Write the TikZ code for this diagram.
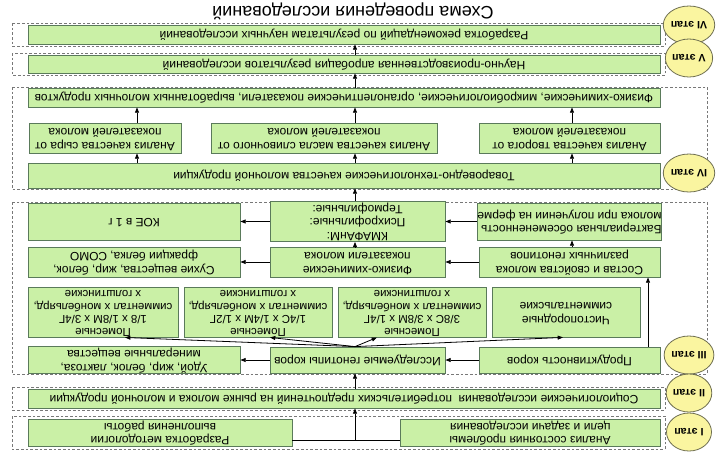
\documentclass[tikz,border=0pt]{standalone}
\usepackage{fontspec}
\setmainfont{Liberation Sans}
\usetikzlibrary{arrows.meta,shapes.geometric}
\definecolor{gfill}{RGB}{202,240,166}
\definecolor{gdraw}{RGB}{90,122,90}
\definecolor{yfill}{RGB}{250,245,160}
\definecolor{ydraw}{RGB}{110,110,80}
\definecolor{dgray}{RGB}{120,120,120}
\newcommand\R[2]{\rotatebox{180}{\begin{tabular}{@{}#1@{}}#2\end{tabular}}}
\newcommand\Rs[1]{{\fontsize{8.6}{9.4}\selectfont\R{c}{#1}}}
\newcommand\gb[6]{\node[gbox, minimum width={(#4-#2)*0.75pt}, minimum height={(#5-#3)*0.75pt}] (#1) at ({(#2+#4)/2},{(#3+#5)/2}) {#6};}
\begin{document}
\begin{tikzpicture}[x=0.75pt,y=-0.75pt,
 gbox/.style={draw=gdraw, fill=gfill, line width=0.6pt, inner sep=0pt, font=\fontsize{9}{10}\selectfont},
 dbox/.style={draw=dgray, dash pattern=on 2pt off 1.5pt, line width=0.6pt},
 stage/.style={ellipse, draw=ydraw, fill=yfill, line width=0.6pt, minimum width={45*0.75pt}, minimum height={38*0.75pt}, inner sep=0pt, font=\bfseries\fontsize{8}{9}\selectfont},
 arr/.style={-{Triangle[length=4pt,width=3pt]}, line width=0.6pt, black}]
\fill[white] (0,0) rectangle (720,462);
\useasboundingbox (0,0) rectangle (720,462);

% title
\node (title) at (353,11) {\rotatebox{180}{\fontsize{13.5}{15}\selectfont Схема проведения исследований}};

% dashed stage frames
\draw[dbox] (12,23) rectangle (665,46);
\draw[dbox] (12,53) rectangle (665,75);
\draw[dbox] (12,87) rectangle (707,189);
\draw[dbox] (12,202) rectangle (707,374);
\draw[dbox] (12,387) rectangle (665,410);
\draw[dbox] (12,416) rectangle (665,449);

% boxes
\gb{s6}{28}{25}{660}{44}{\R{c}{Разработка рекомендаций по результатам научных исследований}}
\gb{s5}{28}{55}{660}{73}{\R{c}{Научно-производственная апробация результатов исследований}}
\gb{fiz}{28}{88}{660}{107}{\R{c}{Физико-химические, микробиологические, органолептические показатели, выработанных молочных продуктов}}
\gb{anS}{29}{123}{181}{153}{\R{c}{Анализ качества сыра от\\показателей молока}}
\gb{anM}{211}{123}{437}{153}{\R{c}{Анализ качества масла сливочного от\\показателей молока}}
\gb{anT}{479}{123}{660}{153}{\R{c}{Анализ качества творога от\\показателей молока}}
\gb{tov}{28}{163}{660}{188}{\R{c}{Товароведно-технологические качества молочной продукции}}

\gb{koe}{28}{203}{240}{240}{\R{c}{КОЕ в 1 г}}
\gb{kmaf}{270}{203}{445}{240}{\R{c}{КМАФАнМ:\\Психрофильные:\\Термофильные:}}
\gb{bakt}{479}{203}{660}{240}{\R{l}{Бактериальная обсемененность\\молока при получении на ферме}}
\gb{suh}{28}{247}{240}{277}{\R{c}{Сухие вещества, жир, белок,\\фракции белка, СОМО}}
\gb{fizm}{270}{247}{445}{277}{\R{c}{Физико-химические\\показатели молока}}
\gb{sost}{479}{247}{660}{277}{\R{c}{Состав и свойства молока\\различных генотипов}}
\gb{p18}{28}{287}{178}{337}{\Rs{Помесные\\1/8 x 1/8М x 3/4Г\\симментал x монбельярд,\\x голштинские}}
\gb{p14}{184}{287}{332}{337}{\Rs{Помесные\\1/4С x 1/4М x 1/2Г\\симментал x монбельярд,\\x голштинские}}
\gb{p38}{338}{287}{486}{337}{\Rs{Помесные\\3/8С x 3/8М x 1/4Г\\симментал x монбельярд,\\x голштинские}}
\gb{chist}{492}{287}{640}{337}{\R{c}{Чистопородные\\симментальские}}
\gb{udoy}{28}{347}{240}{373}{\R{c}{Удой, жир, белок, лактоза,\\минеральные вещества}}
\gb{isl}{270}{347}{445}{373}{\R{c}{Исследуемые генотипы коров}}
\gb{prod}{479}{347}{660}{373}{\R{c}{Продуктивность коров}}

\gb{soc}{28}{389}{660}{408}{\R{c}{Социологические исследования\ \ потребительских предпочтений на рынке молока и молочной продукции}}
\gb{met}{28}{419}{292}{446}{\R{c}{Разработка методологии\\выполнения работы}}
\gb{anl}{400}{419}{660}{446}{\R{l}{Анализ состояния проблемы\\цели и задачи исследования}}

% helper coordinates
\coordinate (xa) at (137,0);
\coordinate (xb) at (355,0);
\coordinate (xc) at (572,0);
\coordinate (xd) at (648,0);
\coordinate (f1) at (125,0);
\coordinate (f2) at (270,0);
\coordinate (f3) at (377,0);
\coordinate (f4) at (563,0);
\coordinate (j) at (355,440);

% connectors
\draw[arr] (s5.north -| xb) -- (s6.south -| xb);
\draw[arr] (fiz.north -| xb) -- (s5.south -| xb);
\draw[arr] (anS.north -| xa) -- (fiz.south -| xa);
\draw[arr] (anM.north -| xb) -- (fiz.south -| xb);
\draw[arr] (anT.north -| xc) -- (fiz.south -| xc);
\draw[arr] (tov.north -| xa) -- (anS.south -| xa);
\draw[arr] (tov.north -| xb) -- (anM.south -| xb);
\draw[arr] (tov.north -| xc) -- (anT.south -| xc);
\draw[arr] (kmaf.north -| xb) -- (tov.south -| xb);
\draw[arr] (bakt.west) -- (kmaf.east);
\draw[arr] (kmaf.west) -- (koe.east);
\draw[arr] (sost.west) -- (fizm.east);
\draw[arr] (fizm.west) -- (suh.east);
\draw[arr] (fizm.north -| xb) -- (kmaf.south -| xb);
\draw[arr] (sost.north -| xc) -- (bakt.south -| xc);
\draw[arr] (prod.north -| xd) -- (sost.south -| xd);
\draw[arr] (isl.north -| xb) -- (p18.south -| f1);
\draw[arr] (isl.north -| xb) -- (p14.south -| f2);
\draw[arr] (isl.north -| xb) -- (p38.south -| f3);
\draw[arr] (isl.north -| xb) -- (chist.south -| f4);
\draw[arr] (prod.west) -- (isl.east);
\draw[arr] (isl.west) -- (udoy.east);
\draw[arr] (soc.north -| xb) -- (isl.south -| xb);
\draw[line width=0.6pt] (met.east |- j) -- (anl.west |- j);
\draw[arr] (j) -- (soc.south -| j);

% stage circles
\node[stage] (c6) at (689,25) {\rotatebox{180}{VI этап}};
\node[stage] (c5) at (689,58) {\rotatebox{180}{V этап}};
\node[stage] (c4) at (689,173) {\rotatebox{180}{IV этап}};
\node[stage] (c3) at (689,355) {\rotatebox{180}{III этап}};
\node[stage] (c2) at (689,393) {\rotatebox{180}{II этап}};
\node[stage] (c1) at (689,432) {\rotatebox{180}{I этап}};
\end{tikzpicture}
\end{document}
